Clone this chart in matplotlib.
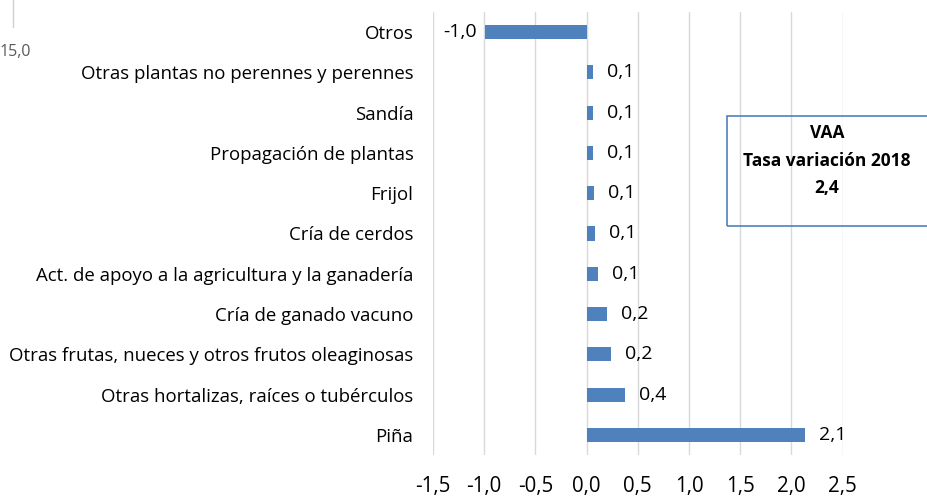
import matplotlib
matplotlib.use('Agg')
import matplotlib.pyplot as plt
from matplotlib.patches import Rectangle

# Data (bottom to top, as drawn)
actividades = ['Piña',
               'Otras hortalizas, raíces o tubérculos',
               'Otras frutas, nueces y otros frutos oleaginosas',
               'Cría de ganado vacuno',
               'Act. de apoyo a la agricultura y la ganadería',
               'Cría de cerdos',
               'Frijol',
               'Propagación de plantas',
               'Sandía',
               'Otras plantas no perennes y perennes',
               'Otros']
aporte = [2.13, 0.38, 0.24, 0.20, 0.11, 0.08, 0.07, 0.06, 0.06, 0.06, -0.99]
etiquetas = ['2,1', '0,4', '0,2', '0,2', '0,1', '0,1', '0,1', '0,1', '0,1', '0,1', '-1,0']
x_ticks = [-1.5, -1.0, -0.5, 0.0, 0.5, 1.0, 1.5, 2.0, 2.5]

plt.rcParams['font.family'] = ['Open Sans', 'DejaVu Sans']

fig = plt.figure(figsize=(9.27, 5.0), dpi=100)
ax = fig.add_axes([0.467, 0.09, 0.442, 0.886])

pos = list(range(len(actividades)))
ax.barh(pos, aporte, height=0.35, color='#4f81bd', zorder=3)

# value labels
for y, v, t in zip(pos, aporte, etiquetas):
    if v >= 0:
        ax.annotate(t, (v, y), xytext=(10, 0), textcoords='offset points',
                    ha='left', va='center', fontsize=14, color='#000000')
    else:
        ax.annotate(t, (v, y), xytext=(-6, 0), textcoords='offset points',
                    ha='right', va='center', fontsize=14, color='#000000')

ax.set_xlim(-1.5, 2.5)
ax.set_ylim(-0.5, 10.5)
ax.set_xticks(x_ticks)
ax.set_xticklabels([f'{t:.1f}'.replace('.', ',') for t in x_ticks], fontsize=14.8)
ax.set_yticks(pos)
ax.set_yticklabels(actividades, fontsize=13.4)
ax.tick_params(axis='x', length=0, pad=15)
ax.tick_params(axis='y', length=0, pad=14)
ax.grid(axis='x', color='#d9d9d9', linewidth=1, zorder=0)
for s in ax.spines.values():
    s.set_visible(False)

# VAA box
fig.patches.append(Rectangle((0.784, 0.548), 0.25, 0.22, transform=fig.transFigure,
                             fill=False, edgecolor='#4f81bd', linewidth=1.2))
fig.text(0.892, 0.734, 'VAA', ha='center', va='center', fontsize=12.5, fontweight='bold')
fig.text(0.892, 0.678, 'Tasa variación 2018', ha='center', va='center', fontsize=12.5, fontweight='bold')
fig.text(0.892, 0.624, '2,4', ha='center', va='center', fontsize=12.5, fontweight='bold')

# remnants of the neighbouring chart in the top-left corner
fig.add_artist(plt.Line2D([0.014, 0.014], [0.946, 1.0], color='#d0d0d0', linewidth=1))
fig.text(0.0, 0.896, '15,0', ha='left', va='center', fontsize=11.5, color='#595959')

fig.savefig('out.png', dpi=100)
